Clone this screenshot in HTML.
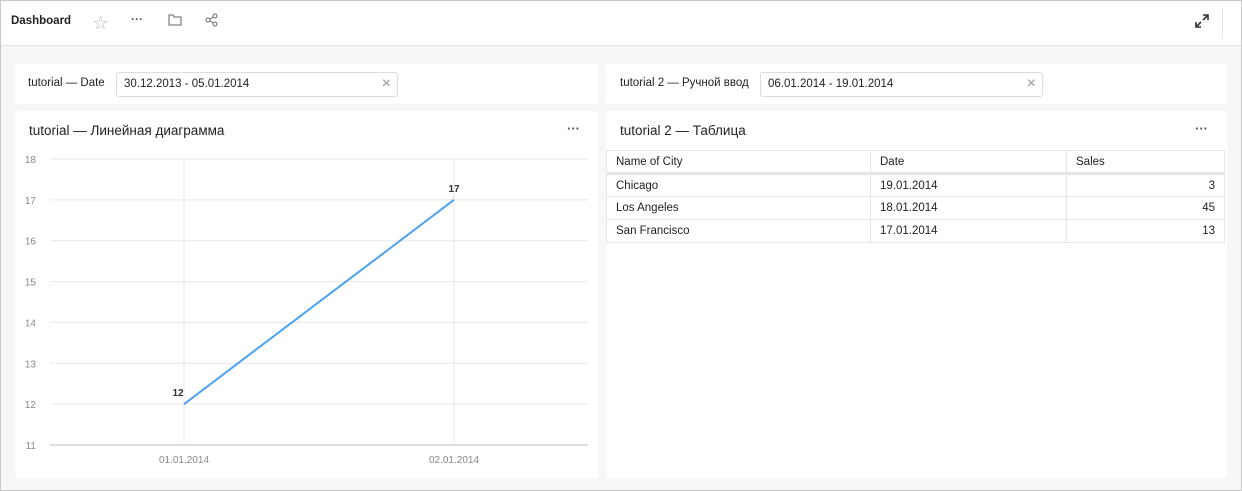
<!DOCTYPE html>
<html><head><meta charset="utf-8"><style>
*{box-sizing:border-box;margin:0;padding:0}
body{width:1242px;height:491px;overflow:hidden;font-family:"Liberation Sans","Noto Sans CJK SC",sans-serif;font-size:12px;color:#222;background:#fff}
.frame{position:absolute;left:0;top:0;width:1242px;height:491px;border:1px solid #c8c8c8;background:#f7f7f7}
.hdr{position:absolute;left:0;top:0;width:1240px;height:45px;background:#fff;border-bottom:1px solid #e2e2e2}
.card{position:absolute;background:#fff;border-radius:3px}
.abs{position:absolute}
.inp{position:absolute;border:1px solid #ddd;border-radius:3px;height:25px;font-size:11.5px;padding:5px 7px;color:#222}
.x{position:absolute;right:6px;top:2px;color:#999;font-size:16px}
table{border-collapse:collapse;position:absolute;left:0;top:39px;width:619px;font-size:11.5px}
td{border:1px solid #e5e5e5;height:23px;padding:0 9px}
</style></head><body>
<div class="frame">
<div class="hdr">
 <div class="abs" style="left:10px;top:14px;font-weight:bold;font-size:11.5px">Dashboard</div>
 <div class="abs" style="left:92px;top:11px;font-size:15px;color:#bbb">☆</div>
 <div class="abs" style="left:130px;top:11px;color:#555;font-size:12px;font-weight:bold;letter-spacing:0px">···</div>
 <svg class="abs" style="left:167px;top:13px" width="14" height="12"><path d="M1 1h4l1 2h7v8H1z" fill="none" stroke="#666"/></svg>
 <svg class="abs" style="left:204px;top:12px" width="14" height="14"><circle cx="3" cy="7" r="2" fill="none" stroke="#666"/><circle cx="10" cy="3" r="2" fill="none" stroke="#666"/><circle cx="10" cy="11" r="2" fill="none" stroke="#666"/><path d="M5 6l3-2M5 8l3 2" stroke="#666"/></svg>
 <svg class="abs" style="left:1194px;top:13px" width="14" height="14"><path d="M8 1h5v5M13 1L8 6M6 13H1V8M1 13l5-5" fill="none" stroke="#333" stroke-width="1.6"/></svg>
 <div class="abs" style="left:1221px;top:6px;width:1px;height:32px;background:#e2e2e2"></div>
</div>

<div class="card" style="left:14px;top:63px;width:583px;height:40px">
 <div class="abs" style="left:13px;top:13px;font-size:11.5px">tutorial — Date</div>
 <div class="inp" style="left:101px;top:8px;width:282px">30.12.2013 - 05.01.2014<span class="x">×</span></div>
</div>
<div class="card" style="left:605px;top:63px;width:621px;height:40px">
 <div class="abs" style="left:14px;top:13px;font-size:11.5px">tutorial 2 — Ручной ввод</div>
 <div class="inp" style="left:154px;top:8px;width:283px">06.01.2014 - 19.01.2014<span class="x">×</span></div>
</div>

<div class="card" style="left:14px;top:110px;width:583px;height:367px">
 <div class="abs" style="left:14px;top:12px;font-size:13.5px">tutorial — Линейная диаграмма</div>
 <div class="abs" style="left:552px;top:10px;color:#555;font-size:13px;font-weight:bold">···</div>
</div>
<svg id="chart" class="abs" style="left:0;top:0" width="600" height="480"></svg>

<div class="card" style="left:605px;top:110px;width:621px;height:367px">
 <div class="abs" style="left:14px;top:12px;font-size:13.5px">tutorial 2 — Таблица</div>
 <div class="abs" style="left:589px;top:10px;color:#555;font-size:13px;font-weight:bold">···</div>
 <table>
  <tr style="border-bottom:3px solid #e5e5e5"><td style="width:264px">Name of City</td><td style="width:196px">Date</td><td>Sales</td></tr>
  <tr><td>Chicago</td><td>19.01.2014</td><td style="text-align:right">3</td></tr>
  <tr><td>Los Angeles</td><td>18.01.2014</td><td style="text-align:right">45</td></tr>
  <tr><td>San Francisco</td><td>17.01.2014</td><td style="text-align:right">13</td></tr>
 </table>
</div>
</div>
<script>
const categories=["01.01.2014","02.01.2014"];
const values=[12,17];
const yTicks=[11,12,13,14,15,16,17,18];
const NS="http://www.w3.org/2000/svg";
const svg=document.getElementById('chart');
const x0=49,x1=587,yTop=158,yBot=444,yMin=11,yMax=18;
function xs(i){return 183+i*270;}
function ys(v){return yBot-(v-yMin)/(yMax-yMin)*(yBot-yTop);}
function mk(t,a){const e=document.createElementNS(NS,t);for(const k in a)e.setAttribute(k,a[k]);svg.appendChild(e);return e;}
yTicks.forEach(v=>{
 const l=mk('line',{x1:x0,x2:x1,y1:ys(v),y2:ys(v),stroke:v===yMin?'#ddd':'#e8e8e8','stroke-width':v===yMin?2:1});
 
 
 const t=mk('text',{x:35,y:ys(v)+4,'text-anchor':'end','font-size':10,fill:'#888','font-family':'Liberation Sans'});
 t.textContent=v;
 
 
});
categories.forEach((c,i)=>{
 const l=mk('line',{x1:xs(i),x2:xs(i),y1:yTop,y2:yBot,stroke:'#e8e8e8'});
 
 
 const t=mk('text',{x:xs(i),y:462,'text-anchor':'middle','font-size':10,fill:'#888','font-family':'Liberation Sans'});
 t.textContent=c;
 
 
});
const p=mk('polyline',{points:values.map((v,i)=>xs(i)+','+ys(v)).join(' '),fill:'none',stroke:'#4da2f1','stroke-width':2});


values.forEach((v,i)=>{
 const t=mk('text',{x:xs(i)-6+(i?6:0),y:ys(v)-8,'text-anchor':'middle','font-size':10,'font-weight':'bold',fill:'#333','font-family':'Liberation Sans'});
 t.textContent=v;
 
 
});
</script>
</body></html>
